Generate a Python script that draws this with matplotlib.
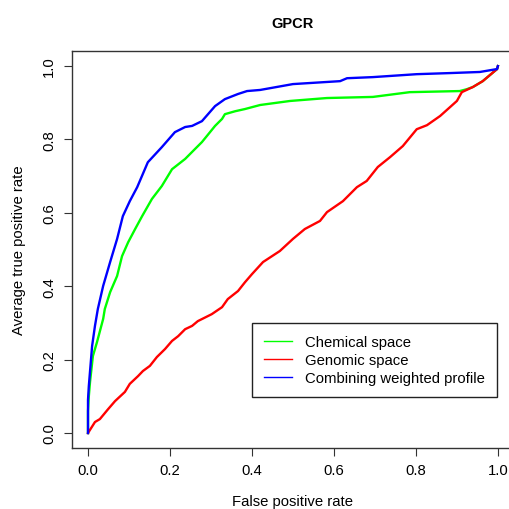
import numpy as np
import matplotlib
matplotlib.use("Agg")
from matplotlib import pyplot as plt

# ROC-Kurven (FPR, mittlere TPR)
chem_fpr = [0.0, 0.0, 0.002, 0.005, 0.012, 0.022, 0.037, 0.041, 0.054, 0.071, 0.083,
            0.098, 0.115, 0.132, 0.156, 0.180, 0.205, 0.237, 0.261, 0.278, 0.310,
            0.327, 0.334, 0.359, 0.383, 0.420, 0.493, 0.583, 0.695, 0.785, 0.907,
            0.924, 0.939, 0.963, 0.998, 1.0]
chem_tpr = [0.0, 0.06, 0.10, 0.14, 0.210, 0.248, 0.311, 0.338, 0.384, 0.428, 0.482,
            0.520, 0.556, 0.591, 0.638, 0.673, 0.719, 0.747, 0.774, 0.793, 0.837,
            0.856, 0.869, 0.877, 0.883, 0.894, 0.905, 0.913, 0.916, 0.929, 0.932,
            0.937, 0.943, 0.959, 0.992, 1.0]

gen_fpr = [0.0, 0.017, 0.029, 0.049, 0.066, 0.090, 0.102, 0.122, 0.134, 0.151, 0.168,
           0.188, 0.205, 0.220, 0.237, 0.254, 0.268, 0.302, 0.327, 0.341, 0.366,
           0.383, 0.400, 0.427, 0.468, 0.500, 0.529, 0.566, 0.583, 0.622, 0.656,
           0.680, 0.707, 0.737, 0.768, 0.802, 0.827, 0.859, 0.900, 0.912, 0.939,
           0.963, 0.998, 1.0]
gen_tpr = [0.0, 0.030, 0.038, 0.065, 0.087, 0.112, 0.134, 0.155, 0.169, 0.183, 0.207,
           0.229, 0.251, 0.264, 0.283, 0.292, 0.305, 0.324, 0.343, 0.365, 0.387,
           0.411, 0.433, 0.466, 0.496, 0.529, 0.556, 0.578, 0.602, 0.632, 0.670,
           0.687, 0.725, 0.752, 0.782, 0.828, 0.839, 0.864, 0.905, 0.929, 0.943,
           0.959, 0.992, 1.0]

comb_fpr = [0.0, 0.0, 0.002, 0.010, 0.017, 0.024, 0.037, 0.054, 0.071, 0.085, 0.102,
            0.120, 0.146, 0.180, 0.212, 0.237, 0.254, 0.278, 0.310, 0.334, 0.366,
            0.388, 0.420, 0.500, 0.615, 0.632, 0.695, 0.802, 0.883, 0.956, 0.998, 1.0]
comb_tpr = [0.0, 0.09, 0.128, 0.237, 0.292, 0.338, 0.401, 0.466, 0.529, 0.591, 0.632,
            0.670, 0.738, 0.779, 0.820, 0.834, 0.837, 0.850, 0.891, 0.910, 0.924,
            0.932, 0.935, 0.951, 0.959, 0.967, 0.970, 0.978, 0.981, 0.984, 0.992, 1.0]

labels = ["Chemical space", "Genomic space", "Combining weighted profile"]
ticks = [0.0, 0.2, 0.4, 0.6, 0.8, 1.0]


def main():
    plt.rcParams['font.family'] = ['Liberation Sans', 'DejaVu Sans']
    fs = 10.7
    fig = plt.figure(figsize=(5.1, 5.1), dpi=100)
    ax = fig.add_axes([0.1404, 0.1202, 0.868, 0.777])

    ax.plot(chem_fpr, chem_tpr, color="#00ff00", lw=1.7)
    ax.plot(gen_fpr, gen_tpr, color="#ff0000", lw=1.7)
    ax.plot(comb_fpr, comb_tpr, color="#0000ff", lw=1.7)

    ax.set_xlim(-0.04, 1.04)
    ax.set_ylim(-0.04, 1.04)
    ax.set_xticks(ticks)
    ax.set_yticks(ticks)
    ax.set_xticklabels(["%.1f" % t for t in ticks])
    ax.set_yticklabels(["%.1f" % t for t in ticks], rotation=90, va="center")
    ax.tick_params(length=6, width=0.8, labelsize=fs, pad=5, color="#333333")
    for sp in ax.spines.values():
        sp.set_color("#333333")
        sp.set_linewidth(1.0)
    ax.spines['right'].set_visible(False)  # liegt im Original ausserhalb des Bildes

    ax.set_xlabel("False positive rate", fontsize=fs, labelpad=12)
    ax.set_ylabel("Average true positive rate", fontsize=fs, labelpad=12)
    fig.text(0.573, 0.953, "GPCR", ha="center", va="center", fontsize=10.5, fontweight="bold")

    # Legende wie in R: linke obere Ecke bei (0.4, 0.3)
    handles = [plt.Line2D([], [], color=c, lw=1) for c in ["#00ff00", "#ff0000", "#0000ff"]]
    leg = ax.legend(handles, labels, loc="upper left", bbox_to_anchor=(0.4, 0.3),
                    bbox_transform=ax.transData, borderaxespad=0, fancybox=False,
                    fontsize=fs, handlelength=1.9, handletextpad=0.9, labelspacing=0.28,
                    borderpad=0.8, framealpha=1)
    leg.get_frame().set_edgecolor("#222222")
    leg.get_frame().set_linewidth(1.0)

    fig.savefig("out.png", dpi=100)


if __name__ == "__main__":
    main()
